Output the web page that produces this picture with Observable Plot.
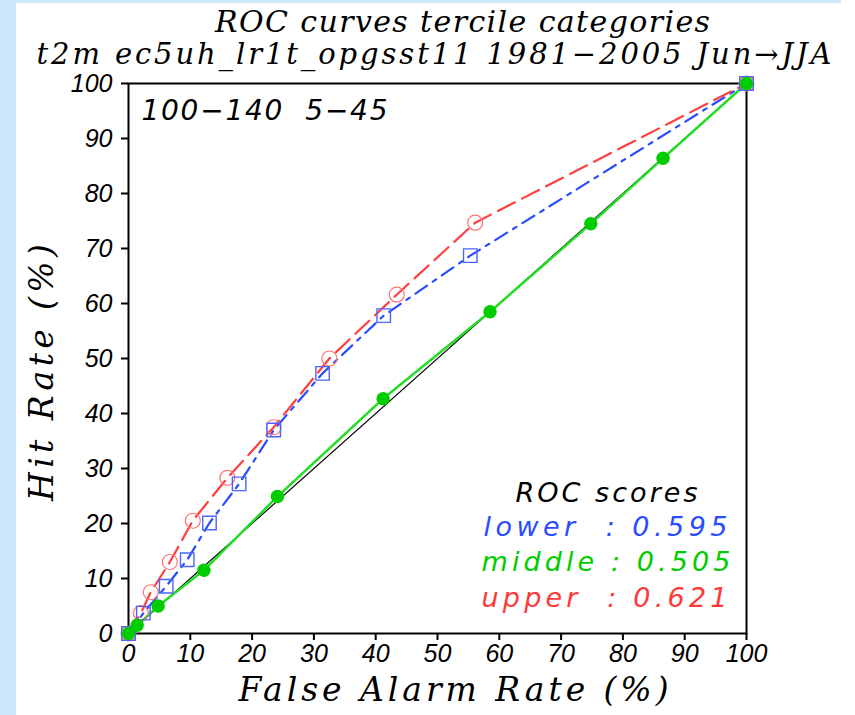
<!DOCTYPE html>
<html><head><meta charset="utf-8">
<script src="https://cdn.jsdelivr.net/npm/d3@7"></script>
<script src="https://cdn.jsdelivr.net/npm/@observablehq/plot@0.6"></script>
<style>
body{margin:0;background:#fff;}
#wrap{position:relative;width:855px;height:715px;background:#cce8fc;overflow:hidden}
#panel{position:absolute;left:16px;top:3px;width:839px;height:712px;background:#fff}
#corner{position:absolute;left:841px;top:0;width:14px;height:3px;background:#fff}
#chart{position:absolute;left:0;top:0}
</style></head><body>
<div id="wrap"><div id="panel"></div><div id="corner"></div><div id="chart"></div></div>
<script>
// ---- data ----
const lowerFar  = [0, 2.4, 6.1, 9.5, 13.1, 17.9, 23.5, 31.4, 41.3, 55.3, 100];
const lowerHit  = [0, 3.7, 8.6, 13.4, 20.1, 27.2, 37.0, 47.3, 57.8, 68.7, 100];
const middleFar = [0, 1.4, 4.8, 12.2, 24.1, 41.2, 58.5, 74.8, 86.5, 100];
const middleHit = [0, 1.5, 5.0, 11.5, 24.9, 42.7, 58.5, 74.5, 86.4, 100];
const upperFar  = [0, 2.0, 3.6, 6.7, 10.4, 16.0, 23.5, 32.5, 43.4, 56.1, 100];
const upperHit  = [0, 3.7, 7.5, 13.0, 20.5, 28.3, 37.5, 50.0, 61.6, 74.7, 100];
const diagonal  = [0, 100];
const xTicks = [0, 10, 20, 30, 40, 50, 60, 70, 80, 90, 100];
const yTicks = [0, 10, 20, 30, 40, 50, 60, 70, 80, 90, 100];
const categories = ["lower", "middle", "upper"];
const rocScores = [0.595, 0.505, 0.621];
const titleLine1 = "ROC curves tercile categories";
const titleLine2 = "t2m ec5uh_lr1t_opgsst11 1981\u22122005 Jun\u2192JJA";
const regionLabel = "100\u2212140  5\u221245";
const xTitle = "False Alarm Rate (%)";
const yTitle = "Hit Rate (%)";
const legendTitle = "ROC scores";

// ---- layout ----
const W = 855, H = 715;
const mL = 128, mR = 109, mT = 83, mB = 82;
const BLUE = "#2a4cff", GREEN = "#00cc00", RED = "#ff4040";
const catColors = ["#2a4cff", "#00cc00", "#ff3838"];
const SERIF = "'DejaVu Serif', 'Liberation Serif', serif";
const SANS = "'DejaVu Sans', 'Liberation Sans', sans-serif";
const TICKFONT = "'Liberation Sans', 'DejaVu Sans', sans-serif";

const toPts = (xs, ys) => xs.map((x, i) => ({x, y: ys[i]}));
const lower = toPts(lowerFar, lowerHit);
const middle = toPts(middleFar, middleHit);
const upper = toPts(upperFar, upperHit);
const diag = diagonal.map(v => ({x: v, y: v}));

const fits = new Map();
// text placed by absolute pixel (px, py = baseline), spaced out to a width
function label(text, px, py, opts = {}) {
  if (opts.width) fits.set(text, opts.width);
  return Plot.text([text], {
    text: d => d,
    frameAnchor: "top-left",
    dx: px - mL, dy: py - mT,
    textAnchor: opts.anchor || "start",
    lineAnchor: "bottom",
    rotate: opts.rotate || 0,
    fontSize: opts.size || 26,
    fontFamily: opts.family || SERIF,
    fontStyle: "italic",
    fill: opts.fill || "#000"
  });
}

const legendLines = categories.map((c, i) =>
  (c + "       ").slice(0, 7) + ": " + rocScores[i].toFixed(3));

const plot = Plot.plot({
  width: W, height: H,
  marginLeft: mL, marginRight: mR, marginTop: mT, marginBottom: mB,
  style: {background: "transparent", overflow: "visible"},
  x: {domain: [0, 100]},
  y: {domain: [0, 100]},
  marks: [
    Plot.axisX({ticks: xTicks, tickSize: 7, tickPadding: 4, label: null, strokeWidth: 2,
      fontSize: 25, fontFamily: TICKFONT, fontStyle: "italic", fill: "#000", tickFormat: d => String(d)}),
    Plot.axisY({ticks: yTicks, tickSize: 7, tickPadding: 9, label: null, strokeWidth: 2,
      fontSize: 25, fontFamily: TICKFONT, fontStyle: "italic", fill: "#000", tickFormat: d => String(d)}),
    Plot.frame({stroke: "#000", strokeWidth: 2}),
    Plot.line(diag, {x: "x", y: "y", stroke: "#000", strokeWidth: 1.2}),
    Plot.line(middle, {x: "x", y: "y", stroke: "#22dd22", strokeWidth: 2.5, strokeDasharray: "1.5,1"}),
    Plot.line(lower, {x: "x", y: "y", stroke: BLUE, strokeWidth: 2.2, strokeDasharray: "14,7,4,7"}),
    Plot.line(upper, {x: "x", y: "y", stroke: RED, strokeWidth: 2.2, strokeDasharray: "19,8"}),
    Plot.dot(upper, {x: "x", y: "y", r: 7.5, stroke: "#ff7474", fill: "none", strokeWidth: 1.2}),
    Plot.dot(lower, {x: "x", y: "y", r: 7.6, symbol: "square", stroke: "#4a64ff", fill: "none", strokeWidth: 1.4}),
    Plot.dot(middle, {x: "x", y: "y", r: 6.7, fill: GREEN, stroke: "none"}),
    label(titleLine1, 462, 31, {anchor: "middle", size: 30, width: 495}),
    label(titleLine2, 36, 63, {size: 29, width: 795}),
    label(regionLabel, 141, 119, {size: 28, family: SANS, width: 246}),
    label(xTitle, 238, 700, {size: 33, width: 430}),
    label(yTitle, 52, 372, {anchor: "middle", rotate: -90, size: 33, width: 257}),
    label(legendTitle, 515, 501, {size: 27, family: SANS, width: 182}),
    label(legendLines[0], 483, 535, {size: 27, family: SANS, fill: catColors[0], width: 244}),
    label(legendLines[1], 481, 570, {size: 27, family: SANS, fill: catColors[1], width: 249}),
    label(legendLines[2], 481, 606, {size: 27, family: SANS, fill: catColors[2], width: 246})
  ]
});
document.getElementById("chart").appendChild(plot);
plot.querySelectorAll("text").forEach(t => {
  const w = fits.get(t.textContent);
  if (w) {
    t.setAttribute("textLength", w);
    t.setAttribute("lengthAdjust", "spacing");
    t.setAttribute("xml:space", "preserve");
    t.style.whiteSpace = "pre";
  }
});
</script>
</body></html>
